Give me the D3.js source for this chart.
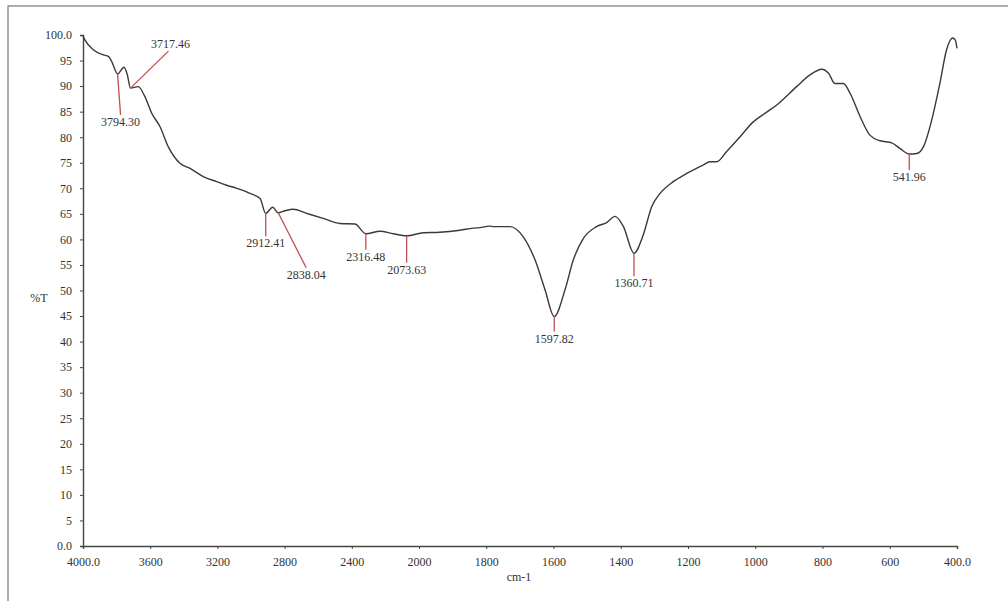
<!DOCTYPE html>
<html>
<head>
<meta charset="utf-8">
<script src="https://cdn.jsdelivr.net/npm/d3@7"></script>
<style>
  html, body { margin: 0; padding: 0; background: #fff; }
  svg { display: block; }
  text { font-family: "Liberation Serif", "DejaVu Serif", serif; }
</style>
</head>
<body>
<svg id="chart" width="1008" height="601"></svg>
<script>
// FTIR transmittance spectrum (wavenumber in cm-1, transmittance in %T)
const wavenumbers = [
  4000, 3988, 3939, 3879, 3849, 3829, 3794.30, 3756, 3736, 3717.46,
  3671, 3631, 3591, 3542, 3492, 3423, 3363, 3284, 3204, 3145,
  3085, 3026, 3006, 2946, 2912.41, 2871, 2838.04, 2798, 2748, 2669,
  2570, 2470, 2381, 2316.48, 2232, 2153, 2073.63, 1987, 1938, 1878,
  1839, 1819, 1789, 1779, 1729, 1690, 1655, 1625, 1597.82, 1566,
  1541, 1511, 1472, 1442, 1417, 1392, 1360.71, 1333, 1308, 1283,
  1244, 1204, 1154, 1135, 1115, 1085, 1045, 1006, 966, 936,
  877, 837, 802, 782, 763, 738, 718, 688, 659, 629,
  594, 570, 541.96, 520, 500, 475, 451, 431, 413, 405,
  400
];
const transmittance = [
  99.8, 99.0, 97.1, 96.1, 95.8, 94.8, 92.4, 93.7, 92.2, 89.6,
  89.9, 87.9, 84.7, 82.1, 78.1, 74.9, 73.9, 72.3, 71.3, 70.6,
  70.0, 69.3, 69.0, 68.0, 65.1, 66.3, 65.2, 65.6, 65.9, 65.1,
  64.1, 63.1, 63.0, 61.1, 61.6, 61.1, 60.7, 61.3, 61.4, 61.8,
  62.2, 62.3, 62.6, 62.5, 62.5, 60.5, 56.0, 50.1, 44.9, 50.1,
  56.0, 60.2, 62.5, 63.3, 64.5, 62.5, 57.3, 60.9, 66.4, 69.0,
  71.3, 72.9, 74.6, 75.2, 75.2, 77.2, 80.1, 83.0, 84.9, 86.3,
  89.9, 92.2, 93.3, 92.5, 90.5, 90.5, 88.6, 84.0, 80.4, 79.3,
  78.9, 77.8, 76.7, 76.8, 78.1, 83.4, 90.5, 97.1, 99.4, 99.0,
  97.4
];

// Labelled absorption bands
const peakWavenumbers = [3794.30, 3717.46, 2912.41, 2838.04, 2316.48, 2073.63, 1597.82, 1360.71, 541.96];
const peakLabels = ["3794.30", "3717.46", "2912.41", "2838.04", "2316.48", "2073.63", "1597.82", "1360.71", "541.96"];

// Axis ticks
const xTicks = [4000, 3600, 3200, 2800, 2400, 2000, 1800, 1600, 1400, 1200, 1000, 800, 600, 400];
const yTicks = [0, 5, 10, 15, 20, 25, 30, 35, 40, 45, 50, 55, 60, 65, 70, 75, 80, 85, 90, 95, 100];

// Leader-line layout for each band label: [dx, dy] from the band minimum, in px
const leaderOffsets = [[3, 41], [38, -37], [0, 23], [28, 55], [0, 16], [0, 27], [0, 15], [0, 23], [0, 16]];

const svg = d3.select("#chart");
const plotLeft = 83, plotRight = 957, plotTop = 35, plotBottom = 546;

// Compressed scale above 2000 cm-1 (two-segment wavenumber axis)
const x = d3.scaleLinear().domain([4000, 2000, 400]).range([plotLeft, 419, plotRight]);
const y = d3.scaleLinear().domain([0, 100]).range([plotBottom, plotTop]);

// Outer frame
svg.append("rect")
  .attr("x", 8).attr("y", 6).attr("width", 1010).attr("height", 610)
  .attr("fill", "none").attr("stroke", "#808080").attr("stroke-width", 1.3);

const textColor = "#333";

// Y axis
const yAxis = svg.append("g").attr("transform", `translate(${plotLeft},0)`)
  .call(d3.axisLeft(y).tickValues(yTicks).tickSize(3).tickPadding(8)
    .tickFormat(d => (d === 0 || d === 100) ? d.toFixed(1) : String(d)));
// X axis
const xAxis = svg.append("g").attr("transform", `translate(0,${plotBottom})`)
  .call(d3.axisBottom(x).tickValues(xTicks).tickSize(3).tickPadding(8)
    .tickFormat(d => (d === 4000 || d === 400) ? d.toFixed(1) : String(d)));

[yAxis, xAxis].forEach(g => {
  g.select(".domain").attr("stroke", "#444").attr("stroke-width", 1.4);
  g.selectAll(".tick line").attr("stroke", "#444").attr("stroke-width", 1);
  g.selectAll(".tick text").attr("fill", textColor).attr("font-size", 12)
    .attr("font-family", "Liberation Serif, serif");
});

// Axis titles
svg.append("text").attr("x", 39).attr("y", 302).attr("text-anchor", "middle")
  .attr("font-size", 12).attr("fill", textColor).text("%T");
svg.append("text").attr("x", 519).attr("y", 581).attr("text-anchor", "middle")
  .attr("font-size", 12).attr("fill", textColor).text("cm-1");

// Spectrum trace
const series = wavenumbers.map((w, i) => ({ w, t: transmittance[i] }));
const line = d3.line().x(d => x(d.w)).y(d => y(d.t)).curve(d3.curveMonotoneX);
svg.append("path").datum(series)
  .attr("d", line).attr("fill", "none")
  .attr("stroke", "#3a3a3a").attr("stroke-width", 1.4).attr("stroke-linejoin", "round");

// Band labels with red leader lines
peakWavenumbers.forEach((w, i) => {
  const t = transmittance[wavenumbers.indexOf(w)];
  const px = x(w), py = y(t);
  const [dx, dy] = leaderOffsets[i];
  const ex = px + dx, ey = py + dy;
  svg.append("line")
    .attr("x1", px).attr("y1", py).attr("x2", ex).attr("y2", ey)
    .attr("stroke", "#c0504d").attr("stroke-width", 1.3);
  const up = dy < 0;
  svg.append("text")
    .attr("x", up ? ex + 2 : ex)
    .attr("y", up ? ey - 3 : ey + 11)
    .attr("text-anchor", "middle")
    .attr("font-size", 12).attr("fill", textColor)
    .text(peakLabels[i]);
});
</script>
</body>
</html>
